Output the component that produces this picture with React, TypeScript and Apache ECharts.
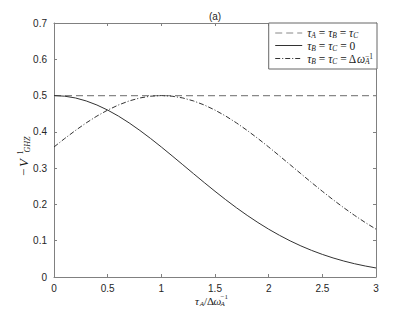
import React, { useEffect, useRef } from "react";
import * as echarts from "echarts";

const tau = [0, 0.1, 0.2, 0.3, 0.4, 0.5, 0.6, 0.7, 0.8, 0.9, 1.0, 1.1, 1.2, 1.3, 1.4, 1.5, 1.6, 1.7, 1.8, 1.9, 2.0, 2.1, 2.2, 2.3, 2.4, 2.5, 2.6, 2.7, 2.8, 2.9, 3.0];
const solidValues = [0.5, 0.4983, 0.4934, 0.4852, 0.474, 0.46, 0.4435, 0.4247, 0.4039, 0.3817, 0.3583, 0.334, 0.3094, 0.2847, 0.2602, 0.2362, 0.213, 0.1908, 0.1698, 0.1501, 0.1318, 0.115, 0.0996, 0.0857, 0.0733, 0.0623, 0.0525, 0.044, 0.0366, 0.0303, 0.0249];
const dashDotValues = [0.3583, 0.3817, 0.4039, 0.4247, 0.4435, 0.46, 0.474, 0.4852, 0.4934, 0.4983, 0.5, 0.4983, 0.4934, 0.4852, 0.474, 0.46, 0.4435, 0.4247, 0.4039, 0.3817, 0.3583, 0.334, 0.3094, 0.2847, 0.2602, 0.2362, 0.213, 0.1908, 0.1698, 0.1501, 0.1318];
const flatTau = [0, 3];
const flatValues = [0.5, 0.5];

const seriesNames = ["flat", "zero", "delta"];
const xMin = 0, xMax = 3, xStep = 0.5;
const yMin = 0, yMax = 0.7, yStep = 0.1;

const mathFont = '"Liberation Serif", "DejaVu Serif", serif';
const sansFont = '"Liberation Sans", Arial, Helvetica, sans-serif';
const axisColor = "#808080";
const labelColor = "#262626";
const textColor = "#1a1a1a";

export default function App() {
  const ref = useRef<HTMLDivElement>(null);
  useEffect(() => {
    if (!ref.current) return;
    const chart = echarts.init(ref.current, null, { renderer: "svg" });
    const pairs = (xs: number[], ys: number[]) => xs.map((x, i) => [x, ys[i]]);
    const fmt = (v: number) => String(+v.toFixed(2));

    const xAxisBase = {
      type: "value",
      min: xMin,
      max: xMax,
      interval: xStep,
      axisLine: { show: true, onZero: false, lineStyle: { color: axisColor, width: 1 } },
      axisTick: { show: true, inside: true, length: 3, lineStyle: { color: axisColor } },
      splitLine: { show: false },
    };
    const yAxisBase = {
      type: "value",
      min: yMin,
      max: yMax,
      interval: yStep,
      axisLine: { show: true, onZero: false, lineStyle: { color: axisColor, width: 1 } },
      axisTick: { show: true, inside: true, length: 3, lineStyle: { color: axisColor } },
      splitLine: { show: false },
    };

    const rich = {
      i: { fontStyle: "italic", fontWeight: "normal", fontFamily: mathFont, fontSize: 11.5, lineHeight: 13, color: textColor },
      n: { fontWeight: "normal", fontFamily: mathFont, fontSize: 11.5, lineHeight: 13, color: textColor },
      s: { fontStyle: "italic", fontWeight: "normal", fontFamily: mathFont, fontSize: 7.5, lineHeight: 8, verticalAlign: "bottom", color: textColor },
      s0: { fontStyle: "italic", fontWeight: "normal", fontFamily: mathFont, fontSize: 7.5, lineHeight: 8, verticalAlign: "bottom", width: 0.01, color: textColor },
      u: { fontWeight: "normal", fontFamily: mathFont, fontSize: 7.5, lineHeight: 8, verticalAlign: "top", color: textColor },
    };
    const legendText: Record<string, string> = {
      flat: "{i|τ}{s|A}{n| = }{i|τ}{s|B}{n| = }{i|τ}{s|C}",
      zero: "{i|τ}{s|B}{n| = }{i|τ}{s|C}{n| = 0}",
      delta: "{i|τ}{s|B}{n| = }{i|τ}{s|C}{n| = Δ}{i|ω}{s0|A}{u|−1}",
    };

    const txt = (x: number, y: number, text: string, font: string) => ({
      type: "text",
      x,
      y,
      style: { text, font, fill: textColor, align: "left", verticalAlign: "middle", textAlign: "left", textVerticalAlign: "middle" },
    });

    chart.setOption({
      animation: false,
      backgroundColor: "#fff",
      grid: { left: 54, right: 39, top: 23, bottom: 35, containLabel: false },
      xAxis: [
        {
          ...xAxisBase,
          position: "bottom",
          axisLabel: { show: true, color: labelColor, fontSize: 10, fontFamily: sansFont, margin: 6, formatter: fmt },
        },
        { ...xAxisBase, position: "top", axisLabel: { show: false } },
      ],
      yAxis: [
        {
          ...yAxisBase,
          position: "left",
          axisLabel: { show: true, color: labelColor, fontSize: 10, fontFamily: sansFont, margin: 7, formatter: fmt },
        },
        { ...yAxisBase, position: "right", axisLabel: { show: false } },
      ],
      legend: {
        show: true,
        orient: "vertical",
        right: 38,
        top: 23,
        padding: [4, 4, 4, 6],
        itemGap: 0,
        itemWidth: 27,
        itemHeight: 10,
        borderColor: "#666",
        borderWidth: 1,
        backgroundColor: "#fff",
        data: seriesNames,
        itemStyle: { opacity: 0 },
        lineStyle: { width: 1 },
        formatter: (name: string) => legendText[name],
        textStyle: { rich, fontFamily: mathFont, fontSize: 11.5, color: textColor },
      },
      series: [
        {
          name: "flat",
          type: "line",
          symbol: "none",
          data: pairs(flatTau, flatValues),
          lineStyle: { color: "#888", width: 1.3, type: [7, 4] },
          itemStyle: { color: "#888" },
        },
        {
          name: "zero",
          type: "line",
          symbol: "none",
          smooth: false,
          data: pairs(tau, solidValues),
          lineStyle: { color: "#333", width: 1, type: "solid" },
          itemStyle: { color: "#333" },
        },
        {
          name: "delta",
          type: "line",
          symbol: "none",
          smooth: false,
          data: pairs(tau, dashDotValues),
          lineStyle: { color: "#333", width: 1, type: [5, 2, 1, 2] },
          itemStyle: { color: "#333" },
        },
      ],
      graphic: [
        {
          type: "text",
          x: 215,
          y: 16,
          style: { text: "(a)", font: `10px ${sansFont}`, fill: labelColor, align: "center", verticalAlign: "middle", textAlign: "center", textVerticalAlign: "middle" },
        },
        {
          type: "group",
          x: 195,
          y: 301,
          children: [
            txt(0, 0, "τ", `italic 11px ${mathFont}`),
            txt(4.8, 3, "A", `italic 7px ${mathFont}`),
            txt(9, 0, "/", `11px ${mathFont}`),
            txt(12, 0, "Δ", `11px ${mathFont}`),
            txt(18.5, 0, "ω", `italic 11px ${mathFont}`),
            txt(25.5, 3, "A", `italic 7px ${mathFont}`),
            txt(25.5, -4, "−1", `7px ${mathFont}`),
          ],
        },
        {
          type: "group",
          x: 23.5,
          y: 176,
          rotation: Math.PI / 2,
          children: [
            txt(0, 0, "−", `13px ${mathFont}`),
            txt(9, 0, "V", `italic 13px ${mathFont}`),
            txt(21.5, -3, "1", `8px ${mathFont}`),
            txt(23.5, 3.5, "GHZ", `italic 8px ${mathFont}`),
          ],
        },
      ],
    });
    return () => chart.dispose();
  }, []);
  return <div ref={ref} style={{ position: "absolute", left: 0, top: 0, width: 415, height: 312 }} />;
}
